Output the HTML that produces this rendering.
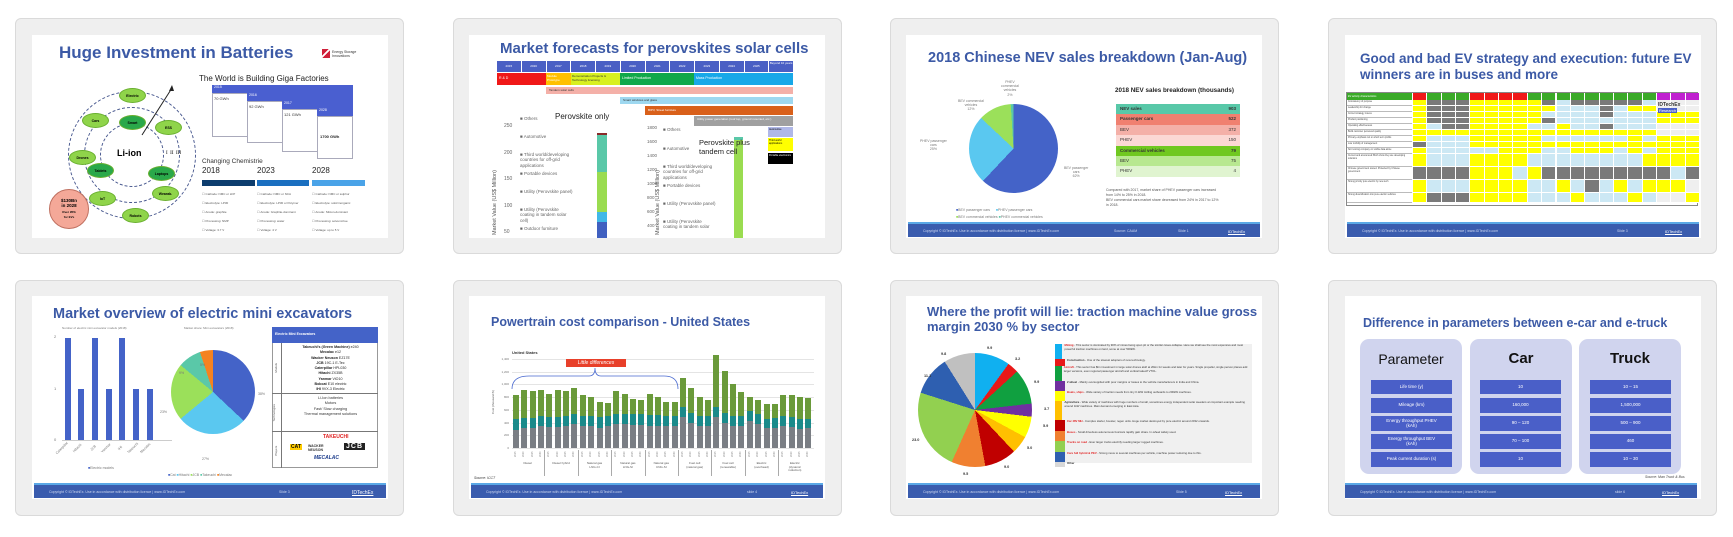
<!DOCTYPE html>
<html><head><meta charset="utf-8">
<style>
*{margin:0;padding:0;box-sizing:border-box}
body{width:1733px;height:537px;background:#fff;position:relative;overflow:hidden;font-family:"Liberation Sans",sans-serif}
.card{position:absolute;width:389px;height:236px;background:#efefef;border:1px solid #dadada;border-radius:6px}
.s{position:absolute;width:356px;height:203px;background:#fff;overflow:hidden}
.a{position:absolute}
.t{position:absolute;color:#3c5aa6;font-weight:bold;line-height:1.15;white-space:nowrap}
.ft{position:absolute;left:2px;right:2px;top:187px;height:15px;background:#3a5cae;border-top:2px solid #5aa8e6;color:#cfd8f0;font-size:3.5px}
.ft span{position:absolute;top:5px}
.sm{position:absolute;font-size:4px;color:#555;white-space:nowrap;line-height:1.2}
.el{position:absolute;width:27px;height:15px;border-radius:50%;background:#8fd44a;border:1px solid #6ab030;font-size:3.5px;font-weight:bold;text-align:center;line-height:15px}
.dc{position:absolute;border:1px dashed #4a5a90;border-radius:50%}
.pie{position:absolute;border-radius:50%}
.bx{position:absolute;background:#4a5fc8;color:#fff;font-size:4.5px;text-align:center;display:flex;align-items:center;justify-content:center;line-height:1.1}
</style></head><body>

<!-- cards -->
<div class="card" style="left:15px;top:18px"></div>
<div class="card" style="left:453px;top:18px"></div>
<div class="card" style="left:890px;top:18px"></div>
<div class="card" style="left:1328px;top:18px"></div>
<div class="card" style="left:15px;top:280px"></div>
<div class="card" style="left:453px;top:280px"></div>
<div class="card" style="left:890px;top:280px"></div>
<div class="card" style="left:1328px;top:280px"></div>

<!-- Slide 1 -->
<div class="s" style="left:32px;top:35px">
 <div class="t" style="left:27px;top:8px;font-size:17px">Huge Investment in Batteries</div>
 <div class="a" style="left:290px;top:14px;width:8px;height:9px;background:linear-gradient(135deg,#d0203a 40%,#fff 40%,#fff 55%,#d0203a 55%)"></div>
 <div class="sm" style="left:300px;top:15px;font-size:3.5px;color:#333">Energy Storage<br>Innovations</div>
 <div class="dc" style="left:36px;top:56px;width:128px;height:128px"></div>
 <div class="dc" style="left:52px;top:72px;width:96px;height:96px"></div>
 <div class="dc" style="left:68px;top:88px;width:64px;height:64px"></div>
 <svg class="a" style="left:0;top:0" width="200" height="203"><line x1="110" y1="100" x2="140" y2="53" stroke="#222" stroke-width="1"/><polygon points="140,50 137,56 142,56" fill="#222"/></svg>
 <div class="a" style="left:85px;top:113px;font-size:9px;font-weight:bold">Li-ion</div>
 <div class="a" style="left:134px;top:116px;font-size:5px;font-family:'Liberation Serif',serif">I &nbsp;II &nbsp;III</div>
 <div class="el" style="left:87px;top:53px">Electric</div>
 <div class="el" style="left:123px;top:85px">ESS</div>
 <div class="el" style="left:120px;top:151px">Wearab.</div>
 <div class="el" style="left:90px;top:173px">Robots</div>
 <div class="el" style="left:57px;top:156px">IoT</div>
 <div class="el" style="left:37px;top:115px">Drones</div>
 <div class="el" style="left:50px;top:78px">Cars</div>
 <div class="el" style="left:87px;top:80px;background:#2aa84a">Smart</div>
 <div class="el" style="left:116px;top:131px;background:#2aa84a">Laptops</div>
 <div class="el" style="left:55px;top:128px;background:#2aa84a">Tablets</div>
 <div class="a" style="left:17px;top:154px;width:40px;height:40px;border-radius:50%;background:#f4a898;border:1px solid #c07060;font-size:4.5px;font-weight:bold;text-align:center;padding-top:8px;line-height:1.2">$130Bn<br>in 2028<br><span style="font-size:3px">Over 95%<br>for EVs</span></div>
 <div class="a" style="left:167px;top:39px;font-size:8px;color:#222">The World is Building Giga Factories</div>
 <div class="a" style="left:180px;top:58px;width:141px;height:44px;border:1px solid #aab;background:#fff"></div>
 <div class="a" style="left:180px;top:50px;width:141px;height:8px;background:#4a5fd0;font-size:3.5px;color:#fff;padding-left:2px">2015</div>
 <div class="sm" style="left:182px;top:62px;color:#333">70 GWh</div>
 <div class="a" style="left:215px;top:66px;width:106px;height:42px;border:1px solid #aab;background:#fff"></div>
 <div class="a" style="left:215px;top:58px;width:106px;height:8px;background:#4a5fd0;font-size:3.5px;color:#fff;padding-left:2px">2016</div>
 <div class="sm" style="left:217px;top:70px;color:#333">92 GWh</div>
 <div class="a" style="left:250px;top:74px;width:71px;height:43px;border:1px solid #aab;background:#fff"></div>
 <div class="a" style="left:250px;top:66px;width:71px;height:8px;background:#4a5fd0;font-size:3.5px;color:#fff;padding-left:2px">2017</div>
 <div class="sm" style="left:252px;top:78px;color:#333">121 GWh</div>
 <div class="a" style="left:285px;top:81px;width:36px;height:43px;border:1px solid #aab;background:#fff"></div>
 <div class="a" style="left:285px;top:73px;width:36px;height:8px;background:#4a5fd0;font-size:3.5px;color:#fff;padding-left:2px">2028</div>
 <div class="sm" style="left:288px;top:100px;color:#222;font-weight:bold">1700 GWh</div>
 <div class="a" style="left:170px;top:123px;font-size:6.5px;color:#333">Changing Chemistrie</div>
 <div class="a" style="left:170px;top:131px;font-size:8px;color:#222">2018</div>
 <div class="a" style="left:225px;top:131px;font-size:8px;color:#222">2023</div>
 <div class="a" style="left:280px;top:131px;font-size:8px;color:#222">2028</div>
 <div class="a" style="left:170px;top:145px;width:53px;height:6px;background:#0d3d6e"></div>
 <div class="a" style="left:225px;top:145px;width:52px;height:6px;background:#1a6fc0"></div>
 <div class="a" style="left:280px;top:145px;width:53px;height:6px;background:#4aa3e8"></div>
 <div class="sm" style="left:170px;top:155px;font-size:3px;line-height:9px">☐ Cathode: NMC or LFP<br>☐ Electrolyte: LP30<br>☐ Anode: graphite<br>☐ Processing: NMP<br>☐ Voltage: 3.7 V</div>
 <div class="sm" style="left:225px;top:155px;font-size:3px;line-height:9px">☐ Cathode: NMC or NCA<br>☐ Electrolyte: LP30 or Polymer<br>☐ Anode: Graphite-dominant<br>☐ Processing: water<br>☐ Voltage: 4 V</div>
 <div class="sm" style="left:280px;top:155px;font-size:3px;line-height:9px">☐ Cathode: NMC or sulphur<br>☐ Electrolyte: solid inorganic<br>☐ Anode: Silicon-dominant<br>☐ Processing: solvent-free<br>☐ Voltage: up to 5 V</div>
</div>

<!-- Slide 2 -->
<div class="s" style="left:469px;top:35px">
 <div class="t" style="left:31px;top:5px;font-size:15px">Market forecasts for perovskites solar cells</div>
 <div class="a" style="left:28px;top:26px;width:296px;height:11px;display:flex">
  <div style="flex:1;background:#4a5fc4;border-right:1px solid #fff;font-size:3px;color:#fff;text-align:center;line-height:11px">2015</div><div style="flex:1;background:#4a5fc4;border-right:1px solid #fff;font-size:3px;color:#fff;text-align:center;line-height:11px">2016</div><div style="flex:1;background:#4a5fc4;border-right:1px solid #fff;font-size:3px;color:#fff;text-align:center;line-height:11px">2017</div><div style="flex:1;background:#4a5fc4;border-right:1px solid #fff;font-size:3px;color:#fff;text-align:center;line-height:11px">2018</div><div style="flex:1;background:#4a5fc4;border-right:1px solid #fff;font-size:3px;color:#fff;text-align:center;line-height:11px">2019</div><div style="flex:1;background:#4a5fc4;border-right:1px solid #fff;font-size:3px;color:#fff;text-align:center;line-height:11px">2020</div><div style="flex:1;background:#4a5fc4;border-right:1px solid #fff;font-size:3px;color:#fff;text-align:center;line-height:11px">2021</div><div style="flex:1;background:#4a5fc4;border-right:1px solid #fff;font-size:3px;color:#fff;text-align:center;line-height:11px">2022</div><div style="flex:1;background:#4a5fc4;border-right:1px solid #fff;font-size:3px;color:#fff;text-align:center;line-height:11px">2023</div><div style="flex:1;background:#4a5fc4;border-right:1px solid #fff;font-size:3px;color:#fff;text-align:center;line-height:11px">2024</div><div style="flex:1;background:#4a5fc4;border-right:1px solid #fff;font-size:3px;color:#fff;text-align:center;line-height:11px">2025</div><div style="flex:1;background:#4a5fc4;font-size:3px;color:#fff;text-align:center;line-height:5px">Beyond 10 years</div>
 </div>
 <div class="a" style="left:28px;top:38px;width:49px;height:12px;background:#f01818;font-size:3.5px;color:#fff;padding:3px 2px">R &amp; D</div>
 <div class="a" style="left:77px;top:38px;width:25px;height:12px;background:#ffc000;font-size:3px;color:#fff;padding:1px">Module Prototype</div>
 <div class="a" style="left:102px;top:38px;width:49px;height:12px;background:#d8f020;font-size:3px;color:#333;padding:1px">Demonstration Projects &amp; Technology licensing</div>
 <div class="a" style="left:151px;top:38px;width:74px;height:12px;background:#10a84a;font-size:3.5px;color:#fff;padding:3px 2px">Limited Production</div>
 <div class="a" style="left:225px;top:38px;width:99px;height:12px;background:#18a8e8;font-size:3.5px;color:#fff;padding:3px 2px">Mass Production</div>
 <div class="a" style="left:77px;top:52px;width:247px;height:7px;background:#f4b0a8;font-size:3px;color:#333;padding:1px 3px">Tandem solar cells</div>
 <div class="a" style="left:151px;top:62px;width:173px;height:7px;background:#9ed8f0;font-size:3px;color:#333;padding:1px 3px">Smart windows and glass</div>
 <div class="a" style="left:176px;top:71px;width:148px;height:9px;background:#d9601a;font-size:3px;color:#fff;padding:2px 3px">BIPV, Street furniture</div>
 <div class="a" style="left:225px;top:81px;width:99px;height:10px;background:#a0a0a0;font-size:3px;color:#fff;padding:1px 3px">Utility power generation (roof top, ground mounted, etc.)</div>
 <div class="a" style="left:299px;top:92px;width:25px;height:10px;background:#b0b8e8;font-size:2.5px;padding:1px">Automotive</div>
 <div class="a" style="left:299px;top:103px;width:25px;height:13px;background:#ffff00;font-size:2.5px;padding:1px">Third world applications</div>
 <div class="a" style="left:299px;top:118px;width:25px;height:11px;background:#000;color:#fff;font-size:2.5px;padding:1px">Portable electronics</div>
 <div class="a" style="left:86px;top:77px;font-size:8px;color:#222">Perovskite only</div>
 <div class="sm" style="left:35px;top:78px;font-size:5px;color:#666;line-height:26.5px">250<br>200<br>150<br>100<br>50</div>
 <div class="a" style="left:10px;top:140px;transform:rotate(-90deg);transform-origin:left top;font-size:5.5px;color:#555;white-space:nowrap;top:200px;left:23px">Market Value (US$ Million)</div>
 <div class="sm" style="left:51px;top:81px;font-size:4.5px;color:#666">■ Others</div>
 <div class="sm" style="left:51px;top:99px;font-size:4.5px;color:#666">■ Automotive</div>
 <div class="sm" style="left:51px;top:117px;font-size:4.5px;color:#666">■ Third world/developing<br>countries for off-grid<br>applications</div>
 <div class="sm" style="left:51px;top:136px;font-size:4.5px;color:#666">■ Portable devices</div>
 <div class="sm" style="left:51px;top:154px;font-size:4.5px;color:#666">■ Utility (Perovskite panel)</div>
 <div class="sm" style="left:51px;top:172px;font-size:4.5px;color:#666">■ Utility (Perovskite<br>coating in tandem solar<br>cell)</div>
 <div class="sm" style="left:51px;top:191px;font-size:4.5px;color:#666">■ Outdoor furniture</div>
 <div class="a" style="left:128px;top:98px;width:10px;height:2px;background:#8a2a2a"></div>
 <div class="a" style="left:128px;top:100px;width:10px;height:37px;background:#5ac8a8"></div>
 <div class="a" style="left:128px;top:137px;width:10px;height:40px;background:#9adc50"></div>
 <div class="a" style="left:128px;top:177px;width:10px;height:10px;background:#40b8e8"></div>
 <div class="a" style="left:128px;top:187px;width:10px;height:16px;background:#4060c0"></div>
 <div class="sm" style="left:178px;top:86px;font-size:4.5px;color:#666;line-height:14px">1800<br>1600<br>1400<br>1200<br>1000<br>800<br>600<br>400</div>
 <div class="a" style="left:186px;top:200px;transform:rotate(-90deg);transform-origin:left top;font-size:5.5px;color:#555;white-space:nowrap">Market Value (US$ Million)</div>
 <div class="sm" style="left:194px;top:92px;font-size:4.5px;color:#666">■ Others</div>
 <div class="sm" style="left:194px;top:111px;font-size:4.5px;color:#666">■ Automotive</div>
 <div class="sm" style="left:194px;top:129px;font-size:4.5px;color:#666">■ Third world/developing<br>countries for off-grid<br>applications</div>
 <div class="sm" style="left:194px;top:148px;font-size:4.5px;color:#666">■ Portable devices</div>
 <div class="sm" style="left:194px;top:166px;font-size:4.5px;color:#666">■ Utility (Perovskite panel)</div>
 <div class="sm" style="left:194px;top:184px;font-size:4.5px;color:#666">■ Utility (Perovskite<br>coating in tandem solar</div>
 <div class="a" style="left:265px;top:102px;width:9px;height:3px;background:#5ac8a8"></div>
 <div class="a" style="left:265px;top:105px;width:9px;height:98px;background:#9adc50"></div>
 <div class="a" style="left:230px;top:103px;font-size:7.5px;color:#222;line-height:1.2">Perovskite plus<br>tandem cell</div>
</div>

<!-- Slide 3 -->
<div class="s" style="left:906px;top:35px">
 <div class="t" style="left:22px;top:15px;font-size:14.5px">2018 Chinese NEV sales breakdown (Jan-Aug)</div>
 <div class="pie" style="left:63px;top:69px;width:89px;height:89px;background:conic-gradient(#4463c8 0 62%,#5ac8f0 62% 87%,#9be05a 87% 99%,#5ac8a8 99% 100%)"></div>
 <div class="sm" style="left:95px;top:45px;font-size:3.5px;color:#777;text-align:center">PHEV<br>commercial<br>vehicles<br>2%</div>
 <div class="sm" style="left:52px;top:64px;font-size:3.5px;color:#777;text-align:center">BEV commercial<br>vehicles<br>12%</div>
 <div class="sm" style="left:14px;top:104px;font-size:3.5px;color:#777;text-align:center">PHEV passenger<br>cars<br>25%</div>
 <div class="sm" style="left:158px;top:131px;font-size:3.5px;color:#777;text-align:center">BEV passenger<br>cars<br>62%</div>
 <div class="sm" style="left:50px;top:172px;font-size:3.5px;color:#777;line-height:7px"><span style="color:#4463c8">■</span>BEV passenger cars &nbsp;&nbsp;&nbsp;&nbsp; <span style="color:#5ac8f0">■</span>PHEV passenger cars<br><span style="color:#9be05a">■</span>BEV commercial vehicles <span style="color:#5ac8a8">■</span>PHEV commercial vehicles</div>
 <div class="a" style="left:209px;top:52px;font-size:6.3px;font-weight:bold;color:#222">2018 NEV sales breakdown (thousands)</div>
 <div class="a" style="left:210px;top:69px;width:124px;font-size:4.5px;color:#333">
  <div style="height:10.4px;background:#58c8a8;display:flex;justify-content:space-between;padding:2px 4px;font-weight:bold"><span>NEV sales</span><span>903</span></div>
  <div style="height:10.4px;background:#f08070;display:flex;justify-content:space-between;padding:2px 4px;font-weight:bold"><span>Passenger cars</span><span>522</span></div>
  <div style="height:10.4px;background:#f4b0a8;display:flex;justify-content:space-between;padding:2px 4px"><span>BEV</span><span>372</span></div>
  <div style="height:10.4px;background:#fbd8d4;display:flex;justify-content:space-between;padding:2px 4px"><span>PHEV</span><span>150</span></div>
  <div style="height:10.4px;background:#70c820;display:flex;justify-content:space-between;padding:2px 4px;font-weight:bold"><span>Commercial vehicles</span><span>79</span></div>
  <div style="height:10.4px;background:#b8e890;display:flex;justify-content:space-between;padding:2px 4px"><span>BEV</span><span>75</span></div>
  <div style="height:10.4px;background:#e0f4d0;display:flex;justify-content:space-between;padding:2px 4px"><span>PHEV</span><span>4</span></div>
 </div>
 <div class="sm" style="left:200px;top:153px;font-size:3.5px;color:#555;line-height:5px">Compared with 2017, market share of PHEV passenger cars increased<br>from 14% to 25% in 2018.<br>BEV commercial cars market share decreased from 24% in 2017 to 12%<br>in 2018.</div>
 <div class="ft"><span style="left:15px">Copyright © IDTechEx. Use in accordance with distribution licence | www.IDTechEx.com</span><span style="left:206px">Source: CAAM</span><span style="left:270px">Slide 1</span><span style="left:320px;color:#fff;text-decoration:underline;font-size:4px">IDTechEx</span></div>
</div>

<!-- Slide 4 -->
<div class="s" style="left:1345px;top:35px">
 <div class="t" style="left:15px;top:16px;font-size:13.5px">Good and bad EV strategy and execution: future EV<br>winners are in buses and more</div>
 <div id="grid" class="a" style="left:1px;top:57px;width:352px;height:114px;border:1px solid #888"></div>
 <div class="ft"><span style="left:15px">Copyright © IDTechEx. Use in accordance with distribution licence | www.IDTechEx.com</span><span style="left:270px">Slide 3</span><span style="left:318px;color:#fff;text-decoration:underline;font-size:4px">IDTechEx</span></div>
</div>

<!-- Slide 5 -->
<div class="s" style="left:32px;top:296px">
 <div class="t" style="left:21px;top:10px;font-size:14.5px">Market overview of electric mini excavators</div>
 <div class="sm" style="left:30px;top:31px;font-size:3px;color:#777">Number of electric mini excavator models (2018)</div>
 <div class="sm" style="left:22px;top:39px;font-size:4px;color:#777">2</div>
 <div class="sm" style="left:22px;top:91px;font-size:4px;color:#777">1</div>
 <div class="sm" style="left:22px;top:142px;font-size:4px;color:#777">0</div>
 <div class="a" style="left:30px;top:144px;width:110px;height:1px;background:#ccc"></div>
 <div class="a" style="left:33px;top:42px;width:6px;height:102px;background:#4463c8"></div>
 <div class="a" style="left:46px;top:93px;width:6px;height:51px;background:#4463c8"></div>
 <div class="a" style="left:60px;top:42px;width:6px;height:102px;background:#4463c8"></div>
 <div class="a" style="left:74px;top:93px;width:6px;height:51px;background:#4463c8"></div>
 <div class="a" style="left:87px;top:42px;width:6px;height:102px;background:#4463c8"></div>
 <div class="a" style="left:101px;top:93px;width:6px;height:51px;background:#4463c8"></div>
 <div class="a" style="left:115px;top:93px;width:6px;height:51px;background:#4463c8"></div>
 <div class="sm" style="left:22px;top:150px;font-size:3.5px;color:#777;transform:rotate(-45deg)">Caterpillar</div>
 <div class="sm" style="left:40px;top:150px;font-size:3.5px;color:#777;transform:rotate(-45deg)">Hitachi</div>
 <div class="sm" style="left:58px;top:150px;font-size:3.5px;color:#777;transform:rotate(-45deg)">JCB</div>
 <div class="sm" style="left:68px;top:150px;font-size:3.5px;color:#777;transform:rotate(-45deg)">Yanmar</div>
 <div class="sm" style="left:86px;top:150px;font-size:3.5px;color:#777;transform:rotate(-45deg)">IHI</div>
 <div class="sm" style="left:94px;top:150px;font-size:3.5px;color:#777;transform:rotate(-45deg)">Takeuchi</div>
 <div class="sm" style="left:107px;top:150px;font-size:3.5px;color:#777;transform:rotate(-45deg)">Mecalac</div>
 <div class="sm" style="left:56px;top:170px;font-size:3.5px;color:#777"><span style="color:#4463c8">■</span>Electric models</div>
 <div class="sm" style="left:152px;top:31px;font-size:3px;color:#777">Market share: Mini excavators (2018)</div>
 <div class="pie" style="left:139px;top:54px;width:84px;height:84px;background:conic-gradient(#4463c8 0 37%,#5ac8f0 37% 64%,#9be05a 64% 86%,#5ac8a8 86% 95%,#f58220 95% 100%)"></div>
 <div class="sm" style="left:226px;top:96px;font-size:3.5px;color:#777">38%</div>
 <div class="sm" style="left:170px;top:161px;font-size:3.5px;color:#777">27%</div>
 <div class="sm" style="left:128px;top:114px;font-size:3.5px;color:#777">23%</div>
 <div class="sm" style="left:147px;top:75px;font-size:3.5px;color:#777">9%</div>
 <div class="sm" style="left:168px;top:67px;font-size:3.5px;color:#777">5%</div>
 <div class="sm" style="left:136px;top:177px;font-size:3.5px;color:#777"><span style="color:#4463c8">■</span>Cat <span style="color:#5ac8f0">■</span>Hitachi <span style="color:#9be05a">■</span>JCB <span style="color:#5ac8a8">■</span>Takeuchi <span style="color:#f58220">■</span>Mecalac</div>
 <div class="a" style="left:240px;top:31px;width:106px;height:141px;border:1px solid #999"></div>
 <div class="a" style="left:240px;top:31px;width:106px;height:16px;background:#4463c8;color:#fff;font-size:3.5px;font-weight:bold;padding:5px 3px">Electric Mini Excavators</div>
 <div class="a" style="left:240px;top:47px;width:10px;height:125px;border-right:1px solid #777"></div>
 <div class="a" style="left:240px;top:97px;width:106px;height:1px;background:#777"></div>
 <div class="a" style="left:240px;top:135px;width:106px;height:1px;background:#777"></div>
 <div class="sm" style="left:251px;top:49px;width:95px;text-align:center;font-size:3.6px;color:#222;line-height:5.3px"><b>Takeuchi's (Green Machine)</b> e240<br><b>Mecalac</b> e12<br><b>Wacker Neuson</b> EZ17E<br><b>JCB</b> 19C-1 E-Tec<br><b>Caterpillar</b> HPL030<br><b>Hitachi</b> ZX35B<br><b>Yanmar</b> ViO10<br><b>Bobcat</b> E10 electric<br><b>IHI</b> 9VX-3 Electric</div>
 <div class="sm" style="left:251px;top:100px;width:95px;text-align:center;font-size:3.8px;color:#333;line-height:5.3px">Li-Ion batteries<br>Motors<br>Fast/ Slow charging<br>Thermal management solutions</div>
 <div class="sm" style="left:240px;top:70px;font-size:3px;color:#555;transform:rotate(-90deg)">Models</div>
 <div class="sm" style="left:234px;top:115px;font-size:3px;color:#555;transform:rotate(-90deg)">Technologies</div>
 <div class="sm" style="left:240px;top:153px;font-size:3px;color:#555;transform:rotate(-90deg)">Players</div>
 <div class="a" style="left:291px;top:138px;font-size:5px;font-weight:bold;color:#e02020">TAKEUCHI</div>
 <div class="a" style="left:258px;top:148px;font-size:5px;font-weight:bold;color:#000;background:#ffcc00;padding:0 1px">CAT</div>
 <div class="a" style="left:276px;top:148px;font-size:3.5px;font-weight:bold;color:#333">WACKER<br>NEUSON</div>
 <div class="a" style="left:312px;top:147px;font-size:7px;font-weight:bold;color:#fff;background:#222;padding:0 2px;letter-spacing:1px">JCB</div>
 <div class="a" style="left:282px;top:159px;font-size:5px;font-weight:bold;font-style:italic;color:#1a3a8a">MECALAC</div>
 <div class="ft"><span style="left:15px">Copyright © IDTechEx. Use in accordance with distribution licence | www.IDTechEx.com</span><span style="left:245px">Slide 3</span><span style="left:318px;color:#fff;text-decoration:underline;font-size:5px">IDTechEx</span></div>
</div>

<!-- Slide 6 -->
<div class="s" style="left:469px;top:296px">
 <div class="t" style="left:22px;top:19px;font-size:12.5px">Powertrain cost comparison - United States</div>
 <div class="a" style="left:43px;top:54px;font-size:4px;font-weight:bold;color:#333">United States</div>
 <div id="bars" class="a" style="left:0;top:0;width:356px;height:203px"></div>
 <div class="a" style="left:97px;top:63px;width:60px;height:8px;background:#e8402a;color:#fff;font-size:5px;font-style:italic;text-align:center;line-height:8px">Little differences</div>
 <svg class="a" style="left:0;top:0" width="356" height="203"><path d="M43,93 Q43,80 60,80 L120,80 Q126,80 126,72 Q126,80 132,80 L195,80 Q209,80 209,93" fill="none" stroke="#4a6ad0" stroke-width="0.8"/></svg>
 <div class="sm" style="left:5px;top:180px;font-size:3.5px;color:#333;font-style:italic">Source: ICCT</div>
 <div class="ft"><span style="left:15px">Copyright © IDTechEx. Use in accordance with distribution licence | www.IDTechEx.com</span><span style="left:276px">slide 4</span><span style="left:320px;color:#fff;text-decoration:underline;font-size:4px">IDTechEx</span></div>
</div>

<!-- Slide 7 -->
<div class="s" style="left:906px;top:296px">
 <div class="t" style="left:21px;top:9px;font-size:13px">Where the profit will lie: traction machine value gross<br>margin 2030 % by sector</div>
 <div class="pie" style="left:12px;top:57px;width:114px;height:114px;background:conic-gradient(#10b0f0 0 10%,#e81818 10% 13.2%,#10a040 13.2% 23.2%,#7030a0 23.2% 26.9%,#ffff00 26.9% 32.9%,#ffc000 32.9% 38%,#c00000 38% 47.1%,#f08030 47.1% 56.7%,#92d050 56.7% 79.9%,#2e5fb0 79.9% 91.1%,#c0c0c0 91.1% 100%)"></div>
 <div class="sm" style="left:81px;top:50px;font-size:3.8px;font-weight:bold;color:#333">9.9</div>
 <div class="sm" style="left:109px;top:61px;font-size:3.8px;font-weight:bold;color:#333">3.2</div>
 <div class="sm" style="left:128px;top:84px;font-size:3.8px;font-weight:bold;color:#333">9.9</div>
 <div class="sm" style="left:138px;top:111px;font-size:3.8px;font-weight:bold;color:#333">3.7</div>
 <div class="sm" style="left:137px;top:128px;font-size:3.8px;font-weight:bold;color:#333">5.9</div>
 <div class="sm" style="left:121px;top:150px;font-size:3.8px;font-weight:bold;color:#333">5.0</div>
 <div class="sm" style="left:98px;top:169px;font-size:3.8px;font-weight:bold;color:#333">9.0</div>
 <div class="sm" style="left:57px;top:176px;font-size:3.8px;font-weight:bold;color:#333">9.5</div>
 <div class="sm" style="left:6px;top:142px;font-size:3.8px;font-weight:bold;color:#333">23.0</div>
 <div class="sm" style="left:18px;top:78px;font-size:3.8px;font-weight:bold;color:#333">11.1</div>
 <div class="sm" style="left:35px;top:56px;font-size:3.8px;font-weight:bold;color:#333">9.8</div>
 <div class="a" style="left:149px;top:48px;width:197px;height:119px;background:#f0f0f0;font-size:2.8px;color:#333;line-height:3.6px">
  <div style="display:flex;height:15px"><div style="width:10px;background:#10b0f0;margin-right:2px"></div><div><b style="color:#e02020">Mining</b> - This sector is dominated by 90% of mines being open pit or the similar caves-collapse. Here we shall see the most expensive and most powerful traction machines on land, some at over 500kW.</div></div>
  <div style="display:flex;height:7px"><div style="width:10px;background:#e81818;margin-right:2px"></div><div><b>Construction</b> - One of the slowest adopters of new technology.</div></div>
  <div style="display:flex;height:15px"><div style="width:10px;background:#10a040;margin-right:2px"></div><div><b style="color:#e02020">Aircraft</b> - This sector has $bn investment in large solar drones aloft at 20km for weeks and later for years. Single propeller, single person planes add larger versions, even regional passenger aircraft and vertical takeoff VTOL.</div></div>
  <div style="display:flex;height:10px"><div style="width:10px;background:#7030a0;margin-right:2px"></div><div><b>2 wheel</b> - Mainly oversupplied with poor margins or losses to the vehicle manufacturers in India and China.</div></div>
  <div style="display:flex;height:10px"><div style="width:10px;background:#ffff00;margin-right:2px"></div><div><b style="color:#e02020">Boats, ships</b> - Wide variety of traction needs from tiny 0.1kW trolling outboards to 200kW machines.</div></div>
  <div style="display:flex;height:19px"><div style="width:10px;background:#ffc000;margin-right:2px"></div><div><b>Agriculture</b> - Wide variety of machines with huge numbers of small, sometimes energy independent solar weeders an important example needing around 1kW machines. Main demand emerging in East Asia.</div></div>
  <div style="display:flex;height:11px"><div style="width:10px;background:#c00000;margin-right:2px"></div><div><b style="color:#e02020">Car 48V MH</b> - Complex starter, booster, regen units. Huge market destroyed by pure electric around 2032 onwards.</div></div>
  <div style="display:flex;height:10px"><div style="width:10px;background:#f08030;margin-right:2px"></div><div><b style="color:#e02020">Buses</b> - Small driverless autonomous bus/cars rapidly gain share. In-wheel widely used.</div></div>
  <div style="display:flex;height:11px"><div style="width:10px;background:#92d050;margin-right:2px"></div><div><b style="color:#e02020">Trucks on road</b> - Ever larger trucks electrify needing larger rugged machines.</div></div>
  <div style="display:flex;height:10px"><div style="width:10px;background:#2e5fb0;margin-right:2px"></div><div><b style="color:#e02020">Cars full hybrid &amp; PEV</b> - Strong move to several machines per vehicle, machine power reducing due to this.</div></div>
  <div style="display:flex;height:5px"><div style="width:10px;background:#d8d8d8;margin-right:2px"></div><div><b>Other</b></div></div>
 </div>
 <div class="ft"><span style="left:15px">Copyright © IDTechEx. Use in accordance with distribution licence | www.IDTechEx.com</span><span style="left:268px">Slide 5</span><span style="left:317px;color:#fff;text-decoration:underline;font-size:4px">IDTechEx</span></div>
</div>

<!-- Slide 8 -->
<div class="s" style="left:1345px;top:296px">
 <div class="t" style="left:18px;top:20px;font-size:12.5px">Difference in parameters between e-car and e-truck</div>
 <div class="a" style="left:15px;top:43px;width:102px;height:135px;background:#d0d4ee;border-radius:9px"></div>
 <div class="a" style="left:125px;top:43px;width:102px;height:135px;background:#d0d4ee;border-radius:9px"></div>
 <div class="a" style="left:234px;top:43px;width:102px;height:135px;background:#d0d4ee;border-radius:9px"></div>
 <div class="a" style="left:15px;top:55px;width:102px;text-align:center;font-size:14px;color:#111">Parameter</div>
 <div class="a" style="left:125px;top:54px;width:102px;text-align:center;font-size:15px;font-weight:bold;color:#111">Car</div>
 <div class="a" style="left:234px;top:54px;width:102px;text-align:center;font-size:15px;font-weight:bold;color:#111">Truck</div>
 <div class="bx" style="left:26px;top:84px;width:81px;height:14px">Life time (y)</div>
 <div class="bx" style="left:26px;top:102px;width:81px;height:15px">Mileage (km)</div>
 <div class="bx" style="left:26px;top:120px;width:81px;height:15px">Energy throughput PHEV<br>(kAh)</div>
 <div class="bx" style="left:26px;top:138px;width:81px;height:15px">Energy throughput BEV<br>(kAh)</div>
 <div class="bx" style="left:26px;top:156px;width:81px;height:15px">Peak current duration (s)</div>
 <div class="bx" style="left:135px;top:84px;width:81px;height:14px">10</div>
 <div class="bx" style="left:135px;top:102px;width:81px;height:15px">160,000</div>
 <div class="bx" style="left:135px;top:120px;width:81px;height:15px">90 – 120</div>
 <div class="bx" style="left:135px;top:138px;width:81px;height:15px">70 – 100</div>
 <div class="bx" style="left:135px;top:156px;width:81px;height:15px">10</div>
 <div class="bx" style="left:245px;top:84px;width:81px;height:14px">10 – 15</div>
 <div class="bx" style="left:245px;top:102px;width:81px;height:15px">1,500,000</div>
 <div class="bx" style="left:245px;top:120px;width:81px;height:15px">500 – 900</div>
 <div class="bx" style="left:245px;top:138px;width:81px;height:15px">460</div>
 <div class="bx" style="left:245px;top:156px;width:81px;height:15px">10 – 30</div>
 <div class="sm" style="left:300px;top:179px;font-size:3.5px;color:#444;font-style:italic">Source: Man Truck &amp; Bus</div>
 <div class="ft" style="left:0;right:4px"><span style="left:15px">Copyright © IDTechEx. Use in accordance with distribution licence | www.IDTechEx.com</span><span style="left:270px">slide 6</span><span style="left:317px;color:#fff;text-decoration:underline;font-size:4px">IDTechEx</span></div>
</div>

<script>
// EV strategy grid
(function(){
 var g=document.getElementById('grid');
 var heads=['R','g','g','g','R','R','R','R','g','g','g','g','g','g','g','g','g','M','M','M'];
 var hc={R:'#f01818',g:'#3aaa28',M:'#c020d0'};
 var rows=['YGGGYYYYYGBGGGGGBWWW','YGGGYYYYYYBBBGBYYWWW','YGGGYYYYYBBBBGBBBYYY','YGGGYYYYYGBBBBBBBYYY','YBGGYYYYBBYBBGBBBWWW','YYYYYYYYYYYYYYYYYWWW','YBBBYYYYYBBBBBBYBYYY','GBBBYYYYYYYYYYYYYYYY','YBBBBBYYYBBYYYBYBYYY','YBBBYYYYBBBBBBBBYYYY','GGGGYYYBYGGGGGGGGGBG','YBBBYYYYBBYBGBYBYYYW','YGGGYYYYBBBYBBBYBWWY'];
 var rh=[6,6,6,6,6,6,6,6,6,13,13,13,10];
 var labels=['Consistency of purpose','Leadership for change','Correct strategy moves','Product positioning','Operating effectiveness','Build customer perceived quality','Primary emphasis not on short term profits','Low mobility of management','Not running company on visible data alone','Current and announced PEVs show they are developing solutions','Chinese government owned. Protected by Chinese government','Strong priority pure electric by new tech','Strong diversification into pure electric vehicles'];
 var cc={Y:'#ffff00',B:'#cce8f4',G:'#7a7a7a',W:'#efefef'};
 var w0=65,cw=(352-w0)/20,h='';
 h+='<div style="position:absolute;left:0;top:0;width:'+w0+'px;height:7px;background:#3aaa28;font-size:2.5px;color:#fff;padding:2px 1px;white-space:nowrap">EV activity characteristics</div>';
 for(var i=0;i<20;i++)h+='<div style="position:absolute;left:'+(w0+i*cw)+'px;top:0;width:'+cw+'px;height:7px;background:'+hc[heads[i]]+';border-left:0.5px solid #fff"></div>';
 var y=7;
 for(var r=0;r<rows.length;r++){
  h+='<div style="position:absolute;left:0;top:'+y+'px;width:'+w0+'px;height:'+rh[r]+'px;background:#fff;border-bottom:0.5px solid #bbb;font-size:2.3px;color:#444;padding:1px;overflow:hidden;line-height:2.8px">'+labels[r]+'</div>';
  for(var c=0;c<20;c++)h+='<div style="position:absolute;left:'+(w0+c*cw)+'px;top:'+y+'px;width:'+cw+'px;height:'+rh[r]+'px;background:'+cc[rows[r][c]]+';border-left:0.5px solid #fff;border-bottom:0.5px solid #fff"></div>';
  y+=rh[r];
 }
 h+='<div style="position:absolute;left:'+(w0+17*cw+2)+'px;top:9px;font-size:5px;font-weight:bold;color:#333">IDTechEx <span style="background:#4a5fc8;color:#fff;font-weight:normal;padding:0 1px;font-size:4px">Research</span></div>';
 g.innerHTML=h;
})();
// Powertrain bars
(function(){
 var tot=[830,910,890,920,850,920,900,940,840,800,720,710,890,850,770,760,850,800,730,720,1100,940,800,760,1470,1210,1000,880,800,760,700,700,840,840,800,780];
 var gr=[290,310,310,340,330,330,340,370,340,340,320,340,370,370,360,360,350,350,340,350,480,400,350,350,480,400,350,350,430,380,310,320,350,330,300,310];
 var b=document.getElementById('bars'),h='',base=152,k=89/1400,x0=44,p=8.35;
 var ticks=['0','200','400','600','800','1,000','1,200','1,400'];
 for(var t=0;t<8;t++){var yy=base-t*200*k;h+='<div style="position:absolute;left:28px;top:'+(yy-2)+'px;font-size:3px;color:#777;width:12px;text-align:right">'+ticks[t]+'</div><div style="position:absolute;left:43px;top:'+yy+'px;width:302px;height:0.5px;background:#e4e4e4"></div>';}
 h+='<div style="position:absolute;left:22px;top:118px;transform:rotate(-90deg);transform-origin:left top;font-size:3px;color:#555;white-space:nowrap">Cost (thousand $)</div>';
 var teal=[170,160,160,170,160,160,160,170,160,160,170,170,170,170,170,170,170,170,160,160,160,150,150,150,160,150,150,150,150,150,150,150,150,150,150,150];
 var yrs=['2015','2020','2025','2030'];
 for(var i=0;i<36;i++){
  var x=x0+i*p,gh=gr[i]*k,th=teal[i]*k,gt=(tot[i]-gr[i]-teal[i])*k;
  h+='<div style="position:absolute;left:'+x+'px;top:'+(base-gh)+'px;width:6px;height:'+gh+'px;background:#7a7e84"></div>';
  h+='<div style="position:absolute;left:'+x+'px;top:'+(base-gh-th)+'px;width:6px;height:'+th+'px;background:#1a8a8a"></div>';
  h+='<div style="position:absolute;left:'+x+'px;top:'+(base-gh-th-gt)+'px;width:6px;height:'+gt+'px;background:#6a9a3a"></div>';
  h+='<div style="position:absolute;left:'+(x+1)+'px;top:'+(base+9)+'px;transform:rotate(-90deg);transform-origin:left top;font-size:2.5px;color:#888">'+yrs[i%4]+'</div>';
 }
 var names=['Diesel','Diesel hybrid','Natural gas<br>LNG-CI','Natural gas<br>LNG-SI','Natural gas<br>CNG-SI','Fuel cell<br>(natural gas)','Fuel cell<br>(renewable)','Electric<br>(overhead)','Electric<br>(dynamic<br>induction)'];
 for(var j=0;j<9;j++){h+='<div style="position:absolute;left:'+(x0+j*4*p-2)+'px;top:166px;width:'+(4*p)+'px;text-align:center;font-size:3px;color:#555;line-height:3.6px">'+names[j]+'</div>';
  if(j>0)h+='<div style="position:absolute;left:'+(x0+j*4*p-2)+'px;top:154px;width:0.5px;height:26px;background:#aaa"></div>';}
 b.innerHTML=h;
})();
</script>
</body></html>
